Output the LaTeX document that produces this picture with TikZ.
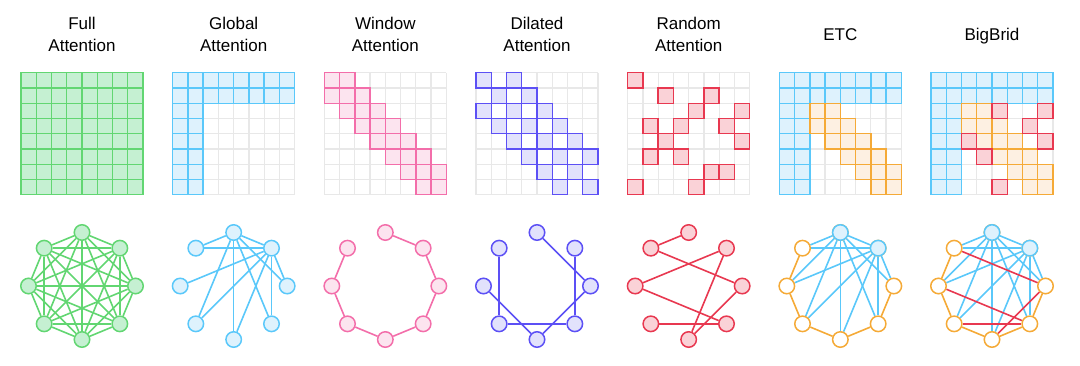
\documentclass[tikz,border=0pt]{standalone}
\usepackage{fontspec}
\setmainfont{Liberation Sans}
\pgfdeclarelayer{bg}
\pgfsetlayers{bg,main}
\definecolor{greenS}{RGB}{98,214,114}
\definecolor{greenF}{RGB}{197,240,210}
\definecolor{blueS}{RGB}{90,200,250}
\definecolor{blueF}{RGB}{222,242,253}
\definecolor{pinkS}{RGB}{243,110,170}
\definecolor{pinkF}{RGB}{252,228,239}
\definecolor{violetS}{RGB}{92,80,245}
\definecolor{violetF}{RGB}{226,226,252}
\definecolor{redS}{RGB}{232,56,80}
\definecolor{redF}{RGB}{250,210,215}
\definecolor{orangeS}{RGB}{245,170,55}
\definecolor{orangeF}{RGB}{253,240,226}
\definecolor{gridgray}{RGB}{232,232,232}
\def\cs{15.25}
\newcommand\sqcell[3]{\draw[#1] ({#3*\cs},{#2*\cs}) rectangle ++(\cs,\cs);}
\newcommand\graygrid{\foreach \k in {0,...,8}{\draw[gridln] ({\k*\cs},0) -- ({\k*\cs},{8*\cs}); \draw[gridln] (0,{\k*\cs}) -- ({8*\cs},{\k*\cs});}}
\newcommand\ringnodes[3]{\foreach \i in {0,...,7}{\node[#2] (#1\i) at ({53.5*cos(90-45*\i)},{-53.5*sin(90-45*\i)}) {};}}
\tikzset{
  gridln/.style={draw=gridgray, line width=1.2pt},
  greencell/.style={draw=greenS, fill=greenF, line width=1.4pt},
  bluecell/.style={draw=blueS, fill=blueF, line width=1.4pt},
  pinkcell/.style={draw=pinkS, fill=pinkF, line width=1.4pt},
  violetcell/.style={draw=violetS, fill=violetF, line width=1.4pt},
  redcell/.style={draw=redS, fill=redF, line width=1.4pt},
  orangecell/.style={draw=orangeS, fill=orangeF, line width=1.4pt},
  gnode/.style={circle, minimum size=15.5pt, inner sep=0pt, line width=1.5pt},
  greennode/.style={gnode, draw=greenS, fill=greenF},
  bluenode/.style={gnode, draw=blueS, fill=blueF},
  pinknode/.style={gnode, draw=pinkS, fill=pinkF},
  violetnode/.style={gnode, draw=violetS, fill=violetF},
  rednode/.style={gnode, draw=redS, fill=redF},
  orangenode/.style={gnode, draw=orangeS, fill=white},
  greenedge/.style={draw=greenS, line width=1.6pt},
  blueedge/.style={draw=blueS, line width=1.6pt},
  pinkedge/.style={draw=pinkS, line width=1.6pt},
  violetedge/.style={draw=violetS, line width=1.6pt},
  rededge/.style={draw=redS, line width=1.6pt},
  orangeedge/.style={draw=orangeS, line width=1.6pt},
  lbl/.style={font=\fontsize{17}{20}\selectfont, anchor=base, inner sep=0pt},
}
\begin{document}
\begin{tikzpicture}[x=1pt,y=-1pt]
\useasboundingbox (0,0) rectangle (1080,365);
% ---------- labels ----------
\node[lbl] (t1a) at (82,29.7) {Full};
\node[lbl] (t1b) at (82,51.3) {Attention};
\node[lbl] (t2a) at (233.67,29.7) {Global};
\node[lbl] (t2b) at (233.67,51.3) {Attention};
\node[lbl] (t3a) at (385.33,29.7) {Window};
\node[lbl] (t3b) at (385.33,51.3) {Attention};
\node[lbl] (t4a) at (537,29.7) {Dilated};
\node[lbl] (t4b) at (537,51.3) {Attention};
\node[lbl] (t5a) at (688.67,29.7) {Random};
\node[lbl] (t5b) at (688.67,51.3) {Attention};
\node[lbl] (t6) at (840.33,40.5) {ETC};
\node[lbl] (t7) at (992,40.5) {BigBrid};
% ---------- grids ----------
% Full
\begin{scope}[shift={(21,72.7)}]
  \foreach \r in {0,...,7}{\foreach \c in {0,...,7}{\sqcell{greencell}{\r}{\c}}}
\end{scope}
% Global
\begin{scope}[shift={(172.67,72.7)}]
  \graygrid
  \foreach \r in {0,...,7}{\foreach \c in {0,...,7}{
    \ifnum\r<2 \sqcell{bluecell}{\r}{\c}\else\ifnum\c<2 \sqcell{bluecell}{\r}{\c}\fi\fi}}
\end{scope}
% Window
\begin{scope}[shift={(324.33,72.7)}]
  \graygrid
  \foreach \r in {0,...,7}{\foreach \c in {0,...,7}{
    \pgfmathtruncatemacro\dd{abs(\r-\c)}
    \ifnum\dd<2 \sqcell{pinkcell}{\r}{\c}\fi}}
\end{scope}
% Dilated
\begin{scope}[shift={(476,72.7)}]
  \graygrid
  \foreach \r in {0,...,7}{\foreach \c in {0,...,7}{
    \pgfmathtruncatemacro\dd{abs(\r-\c)}
    \ifnum\dd=0 \sqcell{violetcell}{\r}{\c}\fi
    \ifnum\dd=2 \sqcell{violetcell}{\r}{\c}\fi}}
\end{scope}
% Random
\begin{scope}[shift={(627.67,72.7)}]
  \graygrid
  \foreach \r/\c in {0/0,1/2,1/5,2/4,2/7,3/1,3/3,3/6,4/2,4/7,5/1,5/3,6/5,6/6,7/0,7/4}{\sqcell{redcell}{\r}{\c}}
\end{scope}
% ETC
\begin{scope}[shift={(779.33,72.7)}]
  \graygrid
  \foreach \r in {0,...,7}{\foreach \c in {0,...,7}{
    \ifnum\r<2 \sqcell{bluecell}{\r}{\c}\else\ifnum\c<2 \sqcell{bluecell}{\r}{\c}\fi\fi}}
  \foreach \r/\c in {2/2,2/3,3/2,3/3,3/4,4/3,4/4,4/5,5/4,5/5,5/6,6/5,6/6,6/7,7/6,7/7}{\sqcell{orangecell}{\r}{\c}}
\end{scope}
% BigBird
\begin{scope}[shift={(931,72.7)}]
  \graygrid
  \foreach \r in {0,...,7}{\foreach \c in {0,...,7}{
    \ifnum\r<2 \sqcell{bluecell}{\r}{\c}\else\ifnum\c<2 \sqcell{bluecell}{\r}{\c}\fi\fi}}
  \foreach \r/\c in {2/2,2/3,3/2,3/3,3/4,4/3,4/4,4/5,5/4,5/5,5/6,6/5,6/6,6/7,7/6,7/7}{\sqcell{orangecell}{\r}{\c}}
  \foreach \r/\c in {2/4,2/7,3/6,4/2,4/7,5/3,7/4}{\sqcell{redcell}{\r}{\c}}
\end{scope}
% ---------- graphs ----------
% Full
\begin{scope}[shift={(82,286)}]
  \ringnodes{a}{greennode}{}
  \begin{pgfonlayer}{bg}
  \foreach \i in {0,...,7}{\foreach \j in {\i,...,7}{\ifnum\i<\j \draw[greenedge] (a\i) -- (a\j);\fi}}
  \end{pgfonlayer}
\end{scope}
% Global
\begin{scope}[shift={(233.67,286)}]
  \ringnodes{b}{bluenode}{}
  \begin{pgfonlayer}{bg}
  \foreach \j in {1,2,3,4,5,7}{\draw[blueedge] (b0) -- (b\j);}
  \foreach \j in {2,...,7}{\draw[blueedge] (b1) -- (b\j);}
  \end{pgfonlayer}
\end{scope}
% Window
\begin{scope}[shift={(385.33,286)}]
  \ringnodes{c}{pinknode}{}
  \begin{pgfonlayer}{bg}
  \foreach \i/\j in {0/1,1/2,2/3,3/4,4/5,5/6,6/7}{\draw[pinkedge] (c\i) -- (c\j);}
  \end{pgfonlayer}
\end{scope}
% Dilated
\begin{scope}[shift={(537,286)}]
  \ringnodes{d}{violetnode}{}
  \begin{pgfonlayer}{bg}
  \foreach \i/\j in {0/2,1/3,2/4,3/5,4/6,5/7}{\draw[violetedge] (d\i) -- (d\j);}
  \end{pgfonlayer}
\end{scope}
% Random
\begin{scope}[shift={(688.67,286)}]
  \ringnodes{e}{rednode}{}
  \begin{pgfonlayer}{bg}
  \foreach \i/\j in {7/0,7/2,6/1,6/3,1/4,2/4,5/3}{\draw[rededge] (e\i) -- (e\j);}
  \end{pgfonlayer}
\end{scope}
% ETC
\begin{scope}[shift={(840.33,286)}]
  \ringnodes{f}{orangenode}{}
  \node[bluenode] at (f0) {};
  \node[bluenode] at (f1) {};
  \begin{pgfonlayer}{bg}
  \foreach \i/\j in {2/3,3/4,4/5,5/6,6/7}{\draw[orangeedge] (f\i) -- (f\j);}
  \foreach \j in {1,...,7}{\draw[blueedge] (f0) -- (f\j);}
  \foreach \j in {2,...,7}{\draw[blueedge] (f1) -- (f\j);}
  \end{pgfonlayer}
\end{scope}
% BigBird
\begin{scope}[shift={(992,286)}]
  \ringnodes{g}{orangenode}{}
  \node[bluenode] at (g0) {};
  \node[bluenode] at (g1) {};
  \begin{pgfonlayer}{bg}
  \foreach \i/\j in {2/3,3/4,4/5,5/6,6/7}{\draw[orangeedge] (g\i) -- (g\j);}
  \foreach \j in {1,...,7}{\draw[blueedge] (g0) -- (g\j);}
  \foreach \j in {2,...,7}{\draw[blueedge] (g1) -- (g\j);}
  \foreach \i/\j in {7/2,6/3,5/3,4/2}{\draw[rededge] (g\i) -- (g\j);}
  \end{pgfonlayer}
\end{scope}
\end{tikzpicture}
\end{document}
